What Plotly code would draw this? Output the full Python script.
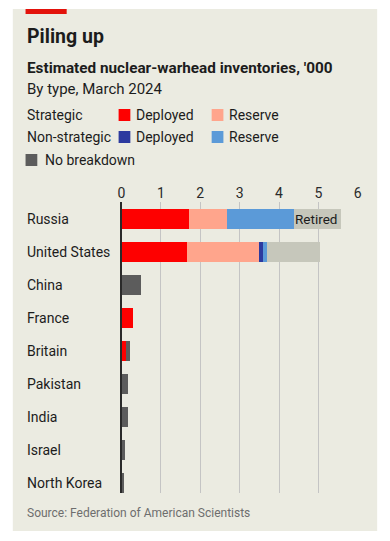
import plotly.graph_objects as go

W, H = 390, 541

countries = ["Russia", "United States", "China", "France", "Britain",
             "Pakistan", "India", "Israel", "North Korea"]
strategic_deployed = [1.71, 1.66, 0, 0.29, 0.11, 0, 0, 0, 0]
strategic_reserve = [0.98, 1.83, 0, 0, 0, 0, 0, 0, 0]
nonstrategic_deployed = [0, 0.10, 0, 0, 0, 0, 0, 0, 0]
nonstrategic_reserve = [1.68, 0.10, 0, 0, 0, 0, 0, 0, 0]
no_breakdown = [0, 0, 0.50, 0, 0.11, 0.17, 0.17, 0.09, 0.05]
retired = [1.20, 1.34, 0, 0, 0, 0, 0, 0, 0]
x_ticks = [0, 1, 2, 3, 4, 5, 6]

C_SDEP = "#fe0000"
C_SRES = "#ffa58c"
C_NDEP = "#2c3a9f"
C_NRES = "#5b9ad8"
C_NOB = "#5c5c5c"
C_RET = "#c6c7bb"
BG = "#ebebe1"
FONT = "Roboto"
TXT = "#1c1c1c"

def px(x):
    return x / W

def py(y):
    return 1 - y / H

ypos = list(range(len(countries)))

fig = go.Figure()
series = [
    ("Strategic deployed", strategic_deployed, C_SDEP),
    ("Strategic reserve", strategic_reserve, C_SRES),
    ("Non-strategic deployed", nonstrategic_deployed, C_NDEP),
    ("Non-strategic reserve", nonstrategic_reserve, C_NRES),
    ("No breakdown", no_breakdown, C_NOB),
    ("Retired", retired, C_RET),
]
for name, vals, col in series:
    fig.add_trace(go.Bar(
        y=ypos, x=vals, orientation="h", name=name,
        marker=dict(color=col, line=dict(width=0)),
        showlegend=False, hoverinfo="x+name",
    ))

shapes = [
    dict(type="rect", xref="paper", yref="paper", x0=px(9), x1=px(381),
         y0=py(531), y1=py(9), fillcolor=BG, line=dict(width=0), layer="below"),
    dict(type="rect", xref="paper", yref="paper", x0=px(22), x1=px(64),
         y0=py(14), y1=py(9), fillcolor="#e3120b", line=dict(width=0)),
]
annotations = [
    dict(text="<b>Piling up</b>", x=px(21), y=py(37), xref="paper", yref="paper",
         xanchor="left", yanchor="middle", showarrow=False,
         font=dict(family=FONT, size=19.5, color=TXT)),
    dict(text="<b>Estimated nuclear-warhead inventories, '000</b>", x=px(21), y=py(68),
         xref="paper", yref="paper", xanchor="left", yanchor="middle", showarrow=False,
         font=dict(family=FONT, size=15.3, color=TXT)),
    dict(text="By type, March 2024", x=px(21), y=py(89),
         xref="paper", yref="paper", xanchor="left", yanchor="middle", showarrow=False,
         font=dict(family=FONT, size=15, color=TXT)),
    dict(text="Source: Federation of American Scientists", x=px(21), y=py(513),
         xref="paper", yref="paper", xanchor="left", yanchor="middle", showarrow=False,
         font=dict(family=FONT, size=12, color="#6e6e6e")),
]

# custom legend
legend_rows = [
    (115, "Strategic", [(C_SDEP, "Deployed", 117), (C_SRES, "Reserve", 212)]),
    (137, "Non-strategic", [(C_NDEP, "Deployed", 117), (C_NRES, "Reserve", 212)]),
]
for yc, lab, items in legend_rows:
    annotations.append(dict(text=lab, x=px(21), y=py(yc), xref="paper", yref="paper",
                            xanchor="left", yanchor="middle", showarrow=False,
                            font=dict(family=FONT, size=14, color=TXT)))
    for col, t, x0 in items:
        shapes.append(dict(type="rect", xref="paper", yref="paper", x0=px(x0),
                           x1=px(x0 + 12), y0=py(yc + 6), y1=py(yc - 6),
                           fillcolor=col, line=dict(width=0)))
        annotations.append(dict(text=t, x=px(x0 + 16), y=py(yc), xref="paper",
                                yref="paper", xanchor="left", yanchor="middle",
                                showarrow=False, font=dict(family=FONT, size=14, color=TXT)))
shapes.append(dict(type="rect", xref="paper", yref="paper", x0=px(22), x1=px(34),
                   y0=py(166), y1=py(154), fillcolor=C_NOB, line=dict(width=0)))
annotations.append(dict(text="No breakdown", x=px(40), y=py(160), xref="paper",
                        yref="paper", xanchor="left", yanchor="middle", showarrow=False,
                        font=dict(family=FONT, size=14, color=TXT)))

# country labels
for i, c in enumerate(countries):
    annotations.append(dict(text=c, x=px(21), y=i, xref="paper", yref="y",
                            xanchor="left", yanchor="middle", showarrow=False,
                            font=dict(family=FONT, size=14, color=TXT)))

# Retired label inside Russia bar
russia_total = (strategic_deployed[0] + strategic_reserve[0] + nonstrategic_deployed[0]
                + nonstrategic_reserve[0] + no_breakdown[0] + retired[0])
annotations.append(dict(text="Retired", x=russia_total, y=0, xref="x", yref="y",
                        xanchor="right", yanchor="middle", xshift=-2, showarrow=False,
                        font=dict(family=FONT, size=13.5, color=TXT)))

fig.update_layout(
    width=W, height=H,
    margin=dict(l=0, r=0, t=0, b=0),
    paper_bgcolor="white", plot_bgcolor="rgba(0,0,0,0)",
    barmode="stack", bargap=0.39,
    shapes=shapes, annotations=annotations,
    xaxis=dict(domain=[px(120), px(361.2)], range=[0, 6], side="top",
               tickvals=x_ticks, ticktext=[str(t) for t in x_ticks],
               showgrid=True, gridcolor="#c4c4c4", gridwidth=1,
               zeroline=False, showline=False, ticks="",
               tickfont=dict(family=FONT, size=14, color="#2a2a2a")),
    yaxis=dict(domain=[py(493), py(202)], range=[8.30, -0.515],
               showticklabels=False, showgrid=False, zeroline=False,
               showline=True, linecolor="#2a2a2a", linewidth=1.5, ticks=""),
    font=dict(family=FONT),
)

fig.write_html(
    "out.html",
    config={"displayModeBar": False},
    post_script="document.body.style.margin='0';document.body.style.overflow='hidden';",
)
